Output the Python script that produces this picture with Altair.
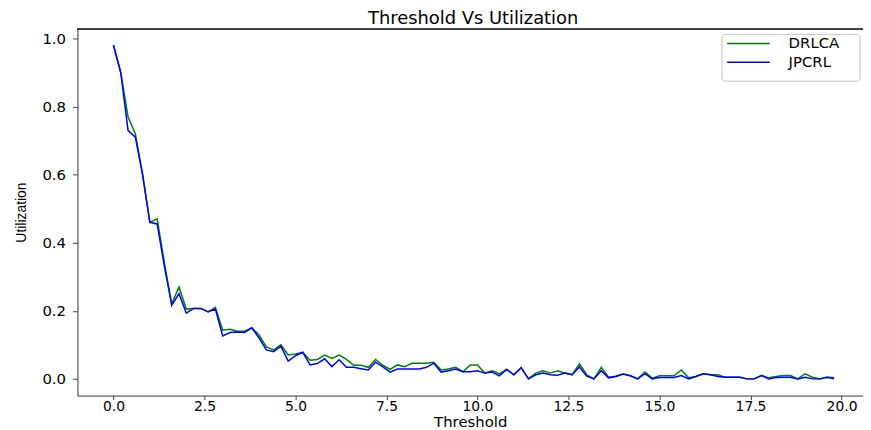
import altair as alt
import pandas as pd

thresholds = [
    0.0, 0.2, 0.4, 0.6, 0.8, 1.0, 1.2, 1.4, 1.6, 1.8,
    2.0, 2.2, 2.4, 2.6, 2.8, 3.0, 3.2, 3.4, 3.6, 3.8,
    4.0, 4.2, 4.4, 4.6, 4.8, 5.0, 5.2, 5.4, 5.6, 5.8,
    6.0, 6.2, 6.4, 6.6, 6.8, 7.0, 7.2, 7.4, 7.6, 7.8,
    8.0, 8.2, 8.4, 8.6, 8.8, 9.0, 9.2, 9.4, 9.6, 9.8,
    10.0, 10.2, 10.4, 10.6, 10.8, 11.0, 11.2, 11.4, 11.6, 11.8,
    12.0, 12.2, 12.4, 12.6, 12.8, 13.0, 13.2, 13.4, 13.6, 13.8,
    14.0, 14.2, 14.4, 14.6, 14.8, 15.0, 15.2, 15.4, 15.6, 15.8,
    16.0, 16.2, 16.4, 16.6, 16.8, 17.0, 17.2, 17.4, 17.6, 17.8,
    18.0, 18.2, 18.4, 18.6, 18.8, 19.0, 19.2, 19.4, 19.6, 19.8,
]

drlca = [
    0.98, 0.90, 0.77, 0.72, 0.60, 0.46, 0.47, 0.34, 0.22, 0.27,
    0.205, 0.207, 0.207, 0.197, 0.21, 0.143, 0.146, 0.14, 0.14, 0.15,
    0.129, 0.094, 0.085, 0.10, 0.07, 0.073, 0.078, 0.055, 0.057, 0.07,
    0.06, 0.07, 0.057, 0.04, 0.04, 0.034, 0.057, 0.04, 0.028, 0.041,
    0.036, 0.046, 0.046, 0.046, 0.049, 0.026, 0.029, 0.034, 0.021, 0.041,
    0.041, 0.017, 0.024, 0.015, 0.028, 0.012, 0.033, 0.0, 0.017, 0.024,
    0.017, 0.024, 0.017, 0.012, 0.044, 0.012, 0.0, 0.034, 0.005, 0.008,
    0.014, 0.009, 0.0, 0.02, 0.002, 0.009, 0.009, 0.009, 0.026, 0.003,
    0.007, 0.015, 0.012, 0.012, 0.005, 0.005, 0.005, 0.0, 0.0, 0.01,
    0.003, 0.007, 0.01, 0.01, 0.0, 0.015, 0.005, 0.0, 0.005, 0.004,
]

jpcrl = [
    0.98, 0.90, 0.73, 0.71, 0.60, 0.46, 0.455, 0.33, 0.216, 0.25,
    0.193, 0.207, 0.207, 0.197, 0.205, 0.126, 0.136, 0.138, 0.136, 0.15,
    0.12, 0.085, 0.08, 0.096, 0.052, 0.068, 0.078, 0.041, 0.045, 0.059,
    0.036, 0.056, 0.034, 0.034, 0.03, 0.026, 0.049, 0.035, 0.02, 0.029,
    0.029, 0.029, 0.029, 0.034, 0.046, 0.02, 0.024, 0.029, 0.021, 0.021,
    0.024, 0.017, 0.02, 0.009, 0.028, 0.012, 0.033, 0.0, 0.012, 0.017,
    0.012, 0.011, 0.017, 0.012, 0.035, 0.008, 0.0, 0.024, 0.003, 0.007,
    0.014, 0.009, 0.0, 0.015, 0.0, 0.004, 0.004, 0.004, 0.01, 0.0,
    0.007, 0.015, 0.012, 0.007, 0.005, 0.005, 0.005, 0.0, 0.0, 0.01,
    0.0, 0.004, 0.005, 0.005, 0.0, 0.005, 0.0, 0.0, 0.005, 0.0,
]

series_names = ["DRLCA", "JPCRL"]
series_colors = ["#008000", "#0000ff"]
x_ticks = [0.0, 2.5, 5.0, 7.5, 10.0, 12.5, 15.0, 17.5, 20.0]
y_ticks = [0.0, 0.2, 0.4, 0.6, 0.8, 1.0]
chart_title = "Threshold Vs Utilization"

rows = []
for t, a, b in zip(thresholds, drlca, jpcrl):
    rows.append({"Threshold": t, "Utilization": a, "Method": series_names[0]})
    rows.append({"Threshold": t, "Utilization": b, "Method": series_names[1]})
df = pd.DataFrame(rows)

W, H = 792, 370
FONT = "DejaVu Sans"

color_scale = alt.Scale(domain=series_names, range=series_colors)

lines = alt.Chart(df).mark_line(strokeWidth=1.5).encode(
    x=alt.X(
        "Threshold:Q",
        scale=alt.Scale(domain=[-0.99, 20.59], nice=False, zero=False),
        axis=alt.Axis(
            values=x_ticks, format=".1f", title="Threshold", grid=False,
            labelFont=FONT, labelFontSize=14, labelColor="#000",
            titleFont=FONT, titleFontSize=15, titleFontWeight="normal",
            titleColor="#000", titlePadding=1,
            tickSize=4, tickColor="#444", domainColor="#444",
            labelPadding=0,
        ),
    ),
    y=alt.Y(
        "Utilization:Q",
        scale=alt.Scale(domain=[-0.049, 1.029], nice=False, zero=False),
        axis=alt.Axis(
            values=y_ticks, format=".1f", title="Utilization", grid=False,
            labelFont=FONT, labelFontSize=15, labelColor="#000",
            titleFont="Liberation Sans Narrow, Liberation Sans",
            titleFontSize=14, titleFontWeight="normal", titleColor="#000",
            titlePadding=14,
            tickSize=5, tickColor="#444", domainColor="#444",
            labelPadding=7,
        ),
    ),
    color=alt.Color("Method:N", scale=color_scale, legend=None),
)

top_spine = alt.Chart(df).mark_rule(color="#444", strokeWidth=1).encode(
    x=alt.value(0), x2=alt.value(W), y=alt.value(0)
)

title_df = pd.DataFrame({"label": [chart_title]})
title_mark = alt.Chart(title_df).mark_text(
    align="center", baseline="alphabetic", font=FONT, fontSize=18, color="#000"
).encode(
    x=alt.value(399), y=alt.value(-5), text="label:N"
)

legend_df = pd.DataFrame({"Method": series_names, "row": [0, 1]})

legend_box = alt.Chart(legend_df).mark_rect(
    fill="white", stroke="#cccccc", strokeWidth=1, cornerRadius=3
).encode(
    x=alt.value(650), x2=alt.value(789), y=alt.value(6), y2=alt.value(53)
)

legend_y = alt.Y("row:Q", scale=alt.Scale(domain=[0, 1], range=[15, 34]), axis=None)

legend_lines = alt.Chart(legend_df).mark_rule(strokeWidth=1.5).encode(
    x=alt.value(655), x2=alt.value(698), y=legend_y,
    color=alt.Color("Method:N", scale=color_scale, legend=None),
)

legend_text = alt.Chart(legend_df).mark_text(
    align="left", baseline="middle", font=FONT, fontSize=15, color="#000"
).encode(
    x=alt.value(717), y=legend_y, text="Method:N"
)

legend_layer = alt.layer(legend_box, legend_lines, legend_text)

chart = alt.layer(lines, top_spine, title_mark, legend_layer).resolve_scale(
    y="independent"
).properties(
    width=W,
    height=H,
    autosize=alt.AutoSizeParams(type="none"),
    padding={"left": 70, "top": 19, "right": 0, "bottom": 33},
).configure_view(stroke=None).configure(background="white")

chart.save("out.html", embed_options={"renderer": "svg", "actions": False})
